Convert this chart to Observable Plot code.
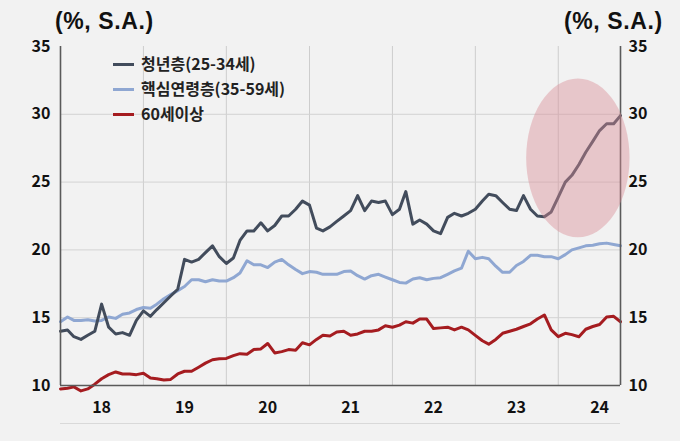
<!DOCTYPE html>
<html><head><meta charset="utf-8">
<script src="https://cdn.jsdelivr.net/npm/d3@7"></script>
<script src="https://cdn.jsdelivr.net/npm/@observablehq/plot@0.6"></script>
<style>
html,body{margin:0;padding:0;background:#f2f2f2;}
#wrap{position:relative;width:680px;height:441px;overflow:hidden;font-family:"Noto Sans CJK KR","Noto Sans",sans-serif;color:#111;}
.unit{position:absolute;top:8px;font-family:"Liberation Sans",Arial,sans-serif;font-size:23px;font-weight:bold;line-height:26px;white-space:nowrap;letter-spacing:0.6px;}
.leg{position:absolute;left:113px;font-size:16px;font-weight:bold;line-height:20px;white-space:nowrap;color:#222;}
.leg i{display:inline-block;width:21px;height:3px;vertical-align:middle;margin-right:7px;position:relative;top:-1px;}
.base{position:absolute;left:60px;top:423px;width:560px;height:1px;background:#d9d9d9;}
</style></head>
<body>
<div id="wrap">
  <div class="unit" style="left:55px">(%, S.A.)</div>
  <div class="unit" style="left:564px">(%, S.A.)</div>
  <div id="chart"></div>
  <div class="leg" style="top:53px"><i style="background:#424c5c"></i>청년층(25-34세)</div>
  <div class="leg" style="top:78px"><i style="background:#8fa7d2"></i>핵심연령층(35-59세)</div>
  <div class="leg" style="top:103px"><i style="background:#a51c20"></i>60세이상</div>
  <div class="base"></div>
</div>
<script>
const startMonth = "2018-01";
const seriesNames = ["청년층(25-34세)", "핵심연령층(35-59세)", "60세이상"];
const youth = [14.0,14.1,13.6,13.4,13.7,14.0,16.0,14.3,13.8,13.9,13.7,14.8,
  15.5,15.1,15.6,16.1,16.6,17.1,19.3,19.1,19.3,19.8,20.3,19.5,
  19.0,19.4,20.7,21.4,21.4,22.0,21.4,21.8,22.5,22.5,23.0,23.6,
  23.3,21.6,21.4,21.7,22.1,22.5,22.9,24.0,22.9,23.6,23.5,23.6,
  22.6,23.0,24.3,21.9,22.2,21.9,21.4,21.2,22.4,22.7,22.5,22.7,
  23.0,23.6,24.1,24.0,23.5,23.0,22.9,24.0,23.0,22.5,22.45,22.8,
  23.9,25.0,25.5,26.3,27.2,28.0,28.8,29.3,29.3,29.9];
const core = [14.7,15.05,14.8,14.8,14.85,14.75,14.8,15.05,14.95,15.25,15.35,15.6,
  15.75,15.7,16.0,16.4,16.7,17.0,17.3,17.8,17.8,17.65,17.8,17.7,
  17.7,17.95,18.3,19.2,18.9,18.9,18.7,19.1,19.3,18.9,18.55,18.25,
  18.4,18.35,18.2,18.2,18.2,18.4,18.45,18.1,17.85,18.1,18.2,18.0,
  17.8,17.6,17.55,17.85,17.95,17.8,17.9,17.95,18.2,18.45,18.65,19.9,
  19.35,19.45,19.35,18.8,18.35,18.35,18.85,19.15,19.6,19.6,19.5,19.5,
  19.35,19.65,20.0,20.15,20.3,20.35,20.45,20.5,20.4,20.3];
const senior = [9.75,9.8,9.9,9.6,9.75,10.1,10.5,10.8,11.0,10.85,10.85,10.8,
  10.9,10.55,10.5,10.4,10.45,10.85,11.05,11.05,11.35,11.65,11.9,11.97,
  12.0,12.2,12.35,12.3,12.65,12.7,13.1,12.4,12.5,12.65,12.6,13.15,
  13.0,13.4,13.7,13.65,13.95,14.0,13.7,13.8,14.0,14.0,14.1,14.4,
  14.3,14.45,14.7,14.6,14.9,14.9,14.2,14.25,14.3,14.1,14.3,14.1,
  13.7,13.3,13.05,13.4,13.85,14.0,14.15,14.35,14.55,14.9,15.2,14.1,
  13.6,13.85,13.75,13.6,14.15,14.35,14.5,15.05,15.1,14.7];
const yTicks = [10, 15, 20, 25, 30, 35];
const yGrid = [15, 20, 25, 30];
const years = [2018, 2019, 2020, 2021, 2022, 2023, 2024];
const colors = ["#424c5c", "#8fa7d2", "#a51c20"];
const xEnd = "2024-10-01";
// highlighted region (ellipse bounds in data units)
const hlX = ["2023-08-15", "2024-11-12"];
const hlY = [20.9, 32.6];

const t0 = new Date(startMonth + "-01T00:00:00Z");
const rows = [];
[senior, core, youth].forEach((arr, k) => {
  const name = seriesNames[2 - k];
  arr.forEach((v, i) => rows.push({date: d3.utcMonth.offset(t0, i), value: v, series: name}));
});
const gridDates = years.slice(1).map(y => new Date(Date.UTC(y, 0, 1)));
const labelDates = years.map(y => new Date(Date.UTC(y, 6, 1)));
const xDomain = [t0, new Date(xEnd + "T00:00:00Z")];

const plot = Plot.plot({
  width: 680, height: 441,
  marginLeft: 60, marginRight: 60, marginTop: 46, marginBottom: 56,
  style: {background: "transparent", fontFamily: "'Noto Sans CJK KR','Noto Sans',sans-serif", color: "#111"},
  x: {type: "utc", domain: xDomain},
  y: {domain: [10, 35]},
  color: {domain: seriesNames, range: colors},
  marks: [
    Plot.ruleX(gridDates, {stroke: "#cdcdcd", strokeWidth: 1}),
    Plot.ruleY(yGrid, {stroke: "#d3d3d3", strokeWidth: 1}),
    Plot.axisY(yTicks, {anchor: "left", tickSize: 0, tickPadding: 10, fontSize: 16, fontWeight: "bold", label: null}),
    Plot.axisY(yTicks, {anchor: "right", tickSize: 0, tickPadding: 8, fontSize: 16, fontWeight: "bold", label: null}),
    Plot.axisX(labelDates, {anchor: "bottom", tickSize: 0, tickPadding: 16, fontSize: 16, fontWeight: "bold", tickFormat: d3.utcFormat("%y"), label: null}),
    Plot.line(rows, {x: "date", y: "value", z: "series", stroke: "series", strokeWidth: 3, strokeLinejoin: "round"}),
    Plot.ruleX(xDomain, {stroke: "#5a5a5a", strokeWidth: 1.6}),
    Plot.ruleY([10], {stroke: "#5a5a5a", strokeWidth: 1.6})
  ]
});
document.getElementById("chart").appendChild(plot);

const sx = plot.scale("x"), sy = plot.scale("y");
const x1 = sx.apply(new Date(hlX[0] + "T00:00:00Z")), x2 = sx.apply(new Date(hlX[1] + "T00:00:00Z"));
const y1 = sy.apply(hlY[0]), y2 = sy.apply(hlY[1]);
d3.select(plot).append("ellipse")
  .attr("cx", (x1 + x2) / 2).attr("cy", (y1 + y2) / 2)
  .attr("rx", Math.abs(x2 - x1) / 2).attr("ry", Math.abs(y1 - y2) / 2)
  .attr("fill", "#d98a94").attr("fill-opacity", 0.42);
</script>
</body></html>
